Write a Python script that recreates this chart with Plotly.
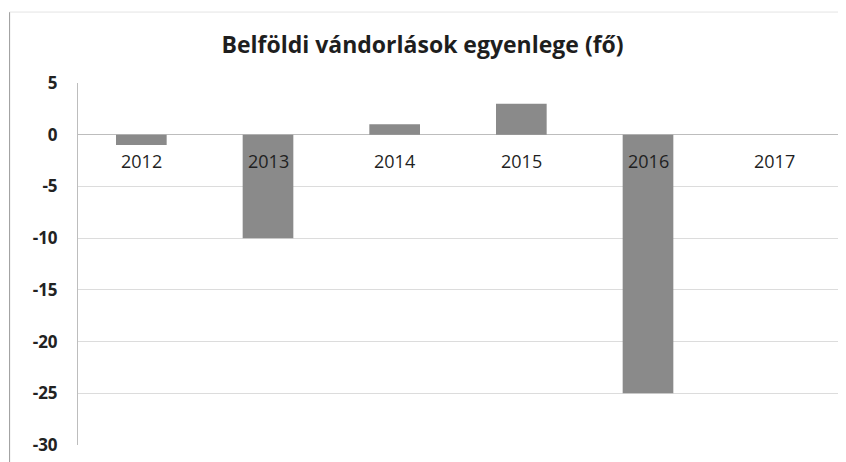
import plotly.graph_objects as go

years = ["2012", "2013", "2014", "2015", "2016", "2017"]
balance = [-1, -10, 1, 3, -25, 0]
y_ticks = [5, 0, -5, -10, -15, -20, -25, -30]
y_tick_text = ["<b>%d</b>" % v for v in y_ticks]  # plain hyphen like the source

fig = go.Figure()
fig.add_trace(go.Bar(
    x=years, y=balance,
    marker=dict(color="#8a8a8a", line=dict(width=0)),
    width=0.4,
))

# category labels sit just under the zero line, as in the original Excel chart
for i, yr in enumerate(years):
    fig.add_annotation(x=i, y=0, xref="x", yref="y", text=yr, showarrow=False, yshift=-26,
                       font=dict(family="Open Sans", size=18, color="#1f1f1f"))

# chart frame (left and top edges of the scanned chart)
fig.add_shape(type="line", xref="paper", yref="paper", x0=-0.09, x1=-0.09, y0=-0.08, y1=1.196,
              line=dict(color="#9a9a9a", width=1))
fig.add_shape(type="line", xref="paper", yref="paper", x0=-0.09, x1=1.02, y0=1.196, y1=1.196,
              line=dict(color="#e4e4e4", width=1))

fig.update_layout(
    width=846, height=462,
    margin=dict(l=70, r=16, t=75, b=25),
    plot_bgcolor="white", paper_bgcolor="white",
    showlegend=False,
    title=dict(text="<b>Belföldi vándorlások egyenlege (fő)</b>", x=0.49, xanchor="center",
               y=0.92, yanchor="middle",
               font=dict(family="Open Sans", size=23, color="#1e1e1e")),
    xaxis=dict(type="category", showticklabels=False, showgrid=False, zeroline=False,
               showline=False, range=[-0.5, 5.5]),
    yaxis=dict(range=[-30, 5], tickvals=y_ticks, ticktext=y_tick_text, showgrid=True,
               gridcolor="#dcdcdc", zeroline=True, zerolinecolor="#bdbdbd", zerolinewidth=1,
               showline=True, linecolor="#bdbdbd", ticks="", ticklabelstandoff=16,
               tickfont=dict(family="Open Sans", size=17, color="#222222")),
)

fig.write_html("out.html")
